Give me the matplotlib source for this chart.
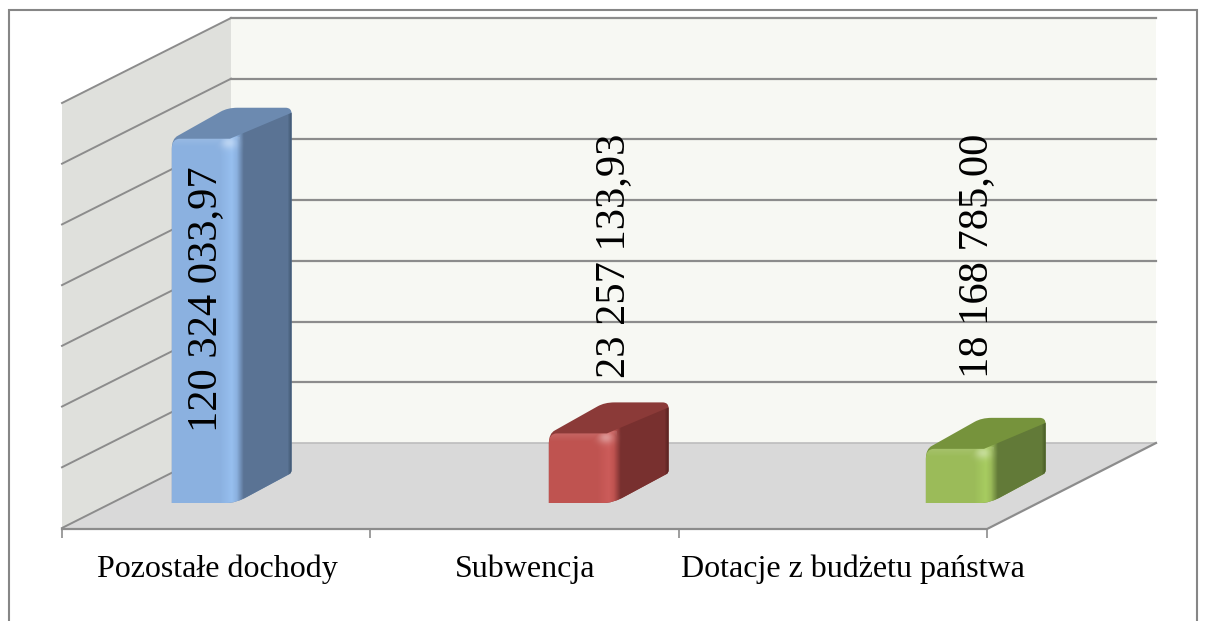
import numpy as np
import matplotlib
matplotlib.use("Agg")
import matplotlib.pyplot as plt
from matplotlib.path import Path
from matplotlib.patches import PathPatch, Polygon, Rectangle
from matplotlib.transforms import IdentityTransform
from matplotlib.colors import to_rgb

categories = ["Pozostałe dochody", "Subwencja", "Dotacje z budżetu państwa"]
values = [120324033.97, 23257133.93, 18168785.00]
value_labels = ["120 324 033,97", "23 257 133,93", "18 168 785,00"]
grid_values = [0, 20e6, 40e6, 60e6, 80e6, 100e6, 120e6, 140e6]

W, H = 1208, 621
plt.rcParams["font.family"] = ["Liberation Serif", "DejaVu Serif"]
fig = plt.figure(figsize=(W / 100, H / 100), dpi=100, facecolor="white")
ax = fig.add_axes([62 / W, (H - 528) / H, 925 / W, 425 / H])
ax.set_xlim(0, 3)
ax.set_ylim(0, 140e6)
ax.patch.set_visible(False)
for s in ax.spines.values():
    s.set_visible(False)

GRID = "#8C8C8C"
ID = IdentityTransform()
DEPTH = np.array([169.0, 85.0])


def px(x, v, depth=0.0):
    return ax.transData.transform((x, v)) + DEPTH * depth


def poly(points, **kw):
    p = Polygon(points, closed=True, transform=ID, clip_on=False, **kw)
    ax.add_patch(p)
    return p


# chart frame
fig.add_artist(Rectangle((8.8, -10), 1188, H - 0.0 - 10 + 10 - 0.2, transform=ID, fill=False,
                         edgecolor="#868686", linewidth=1.5))

# walls and floor
poly([px(0, 0, 1), px(3, 0, 1), px(3, 140e6, 1), px(0, 140e6, 1)], facecolor="#F7F8F3", edgecolor="none", zorder=1)
poly([px(0, 0), px(0, 0, 1), px(0, 140e6, 1), px(0, 140e6)], facecolor="#DFE0DC", edgecolor="none", zorder=1)
poly([px(0, 0), px(3, 0), px(3, 0, 1), px(0, 0, 1)], facecolor="#D9D9D9", edgecolor="none", zorder=1.1)

# gridlines on back wall and side wall
for v in grid_values:
    a, b, c = px(0, v), px(0, v, 1), px(3, v, 1)
    ax.plot([a[0], b[0]], [a[1], b[1]], transform=ID, color=GRID, lw=1.4, clip_on=False, zorder=2)
    ax.plot([b[0], c[0]], [b[1], c[1]], transform=ID, color="#BDBDBD" if v == 0 else GRID,
            lw=1.2 if v == 0 else 1.6, clip_on=False, zorder=2)

# floor front edges and axis ticks
a, b, c = px(0, 0), px(3, 0), px(3, 0, 1)
ax.plot([a[0], b[0], c[0]], [a[1] - 1, b[1] - 1, c[1]], transform=ID, color=GRID, lw=1.6, clip_on=False, zorder=2.2)
ax.set_xticks([0, 1, 2, 3])
ax.set_xticklabels([])
ax.set_yticks([])
ax.tick_params(axis="x", length=7, width=1.2, color=GRID, pad=0)

BAR_START, BAR_STEP, BAR_W = 0.195, 1.2228, 0.195
FRONT_D, BAR_D = 25 / 85, 30 / 85
palette = [
    dict(front="#8BB1E0", light="#97BFEF", side="#5A7394", edge="#3F5670", top="#6C8AB0"),
    dict(front="#BF5350", light="#CC5C5A", side="#78302F", edge="#562220", top="#8B3A38"),
    dict(front="#9BBB59", light="#A7CC60", side="#627A38", edge="#465A26", top="#76933C"),
]


def draw_bar(i, value, col):
    xd = BAR_START + i * BAR_STEP
    x0, yb = px(xd, 0, FRONT_D)
    xr, yt = px(xd + BAR_W, value, FRONT_D)
    dx, dy = DEPTH * BAR_D
    x1, ytb = xr + dx, yt + dy
    side_x = x0 + 72

    # whole silhouette, coloured as the top face
    verts = [(x0, yb), (xr - 5, yb), (xr + 3, yb), (xr + 13, yb + 5), (x1 - 2, yb + dy - 1), (x1, yb + dy),
             (x1, yb + dy + 3), (x1, ytb - 6), (x1, ytb), (x1 - 6, ytb), (x0 + dx + 6, ytb),
             (x0 + dx - 4, ytb), (x0 + dx - 11, ytb - 4), (x0 + 6, yt + 2), (x0, yt - 1), (x0, yt - 11), (x0, yb)]
    codes = [Path.MOVETO, Path.LINETO, Path.CURVE3, Path.CURVE3, Path.LINETO, Path.CURVE3, Path.CURVE3,
             Path.LINETO, Path.CURVE3, Path.CURVE3, Path.LINETO, Path.CURVE3, Path.CURVE3, Path.LINETO,
             Path.CURVE3, Path.CURVE3, Path.CLOSEPOLY]
    ax.add_patch(PathPatch(Path(verts, codes), facecolor=col["top"], edgecolor="none",
                           transform=ID, clip_on=False, zorder=3))

    # lower body (front and side faces), painted with a shaded image
    lv = [(x0, yb), (xr - 5, yb), (xr + 3, yb), (xr + 13, yb + 5), (x1 - 2, yb + dy - 1), (x1, yb + dy),
          (x1, yb + dy + 3), (x1, ytb - 5), (xr - 2, yt - 1), (x0 + 8, yt - 1), (x0, yt - 1), (x0, yt - 11), (x0, yb)]
    lc = [Path.MOVETO, Path.LINETO, Path.CURVE3, Path.CURVE3, Path.LINETO, Path.CURVE3, Path.CURVE3,
          Path.LINETO, Path.LINETO, Path.LINETO, Path.CURVE3, Path.CURVE3, Path.CLOSEPOLY]
    body = Path(lv, lc)

    xs = np.arange(np.floor(x0), np.ceil(x1) + 1) + 0.5
    ys = np.arange(np.floor(yb), np.ceil(ytb) + 1) + 0.5
    stops = [0, 48, 60, 65, 72, x1 - x0 - 4, x1 - x0]
    names = ["front", "front", "light", "front", "side", "side", "edge"]
    rgb = np.array([to_rgb(col[n]) for n in names])
    gx = np.stack([np.interp(xs - x0, stops, rgb[:, k]) for k in range(3)], axis=-1)
    img = np.repeat(gx[None, :, :], len(ys), axis=0)
    X, Y = np.meshgrid(xs, ys)
    # soft rounding below the top edge, and the glint on the corner
    band = np.clip(1 - (yt - Y) / 9, 0, 1) * (X < side_x - 4) * (Y < yt + 1)
    glint = np.exp(-(((X - (x0 + 57)) / 8) ** 2 + ((Y - (yt - 5)) / 6) ** 2))
    amount = np.maximum(0.12 * band, 0.35 * glint)[..., None]
    img = img + (1 - img) * amount
    im = ax.imshow(np.clip(img, 0, 1), origin="lower", aspect="auto", transform=ID,
                   extent=(xs[0] - 0.5, xs[-1] + 0.5, ys[0] - 0.5, ys[-1] + 0.5),
                   interpolation="bilinear", zorder=3.1)
    im.set_clip_box(fig.bbox)
    im.set_clip_path(body, transform=ID)


for i, (v, c) in enumerate(zip(values, palette)):
    draw_bar(i, v, c)

ax.set_xlim(0, 3)
ax.set_ylim(0, 140e6)

# rotated value labels (x centre, string bottom in pixels from the top)
label_spots = [(206, 432), (614, 378), (977, 378)]
for txt, (lx, ly) in zip(value_labels, label_spots):
    ax.text(lx, H - ly, txt, transform=ID, rotation=90, ha="center", va="bottom",
            fontsize=30.6, color="black", zorder=5, clip_on=False)

# category labels
cat_spots = [217, 525, 853]
for txt, lx in zip(categories, cat_spots):
    ax.text(lx, H - 569.5, txt, transform=ID, ha="center", va="center",
            fontsize=23, color="black", zorder=5, clip_on=False)

fig.savefig("out.png", dpi=100, facecolor="white")
